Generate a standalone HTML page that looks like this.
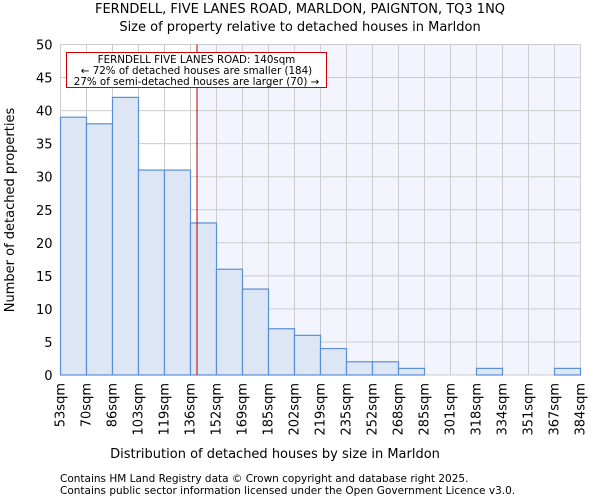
<!DOCTYPE html>
<html><head><meta charset="utf-8"><style>
body{margin:0;background:#fff;font-family:"DejaVu Sans","Liberation Sans",sans-serif}
svg text{font-family:"DejaVu Sans","Liberation Sans",sans-serif;fill:#000}
</style></head><body>
<svg id="c" width="600" height="500">
<text x="300" y="13" text-anchor="middle" font-size="13">FERNDELL, FIVE LANES ROAD, MARLDON, PAIGNTON, TQ3 1NQ</text>
<text x="300" y="31" text-anchor="middle" font-size="13">Size of property relative to detached houses in Marldon</text>
<g id="plot"></g>
<text x="275" y="458" text-anchor="middle" font-size="13">Distribution of detached houses by size in Marldon</text>
<text x="14" y="210" text-anchor="middle" font-size="13" transform="rotate(-90 14 210)">Number of detached properties</text>
<text x="60" y="482" font-size="10.5" fill="#333">Contains HM Land Registry data © Crown copyright and database right 2025.</text>
<text x="60" y="494" font-size="10.5" fill="#333">Contains public sector information licensed under the Open Government Licence v3.0.</text>
</svg>
<script>
const binLabels=["53sqm","70sqm","86sqm","103sqm","119sqm","136sqm","152sqm","169sqm","185sqm","202sqm","219sqm","235sqm","252sqm","268sqm","285sqm","301sqm","318sqm","334sqm","351sqm","367sqm","384sqm"];
const binEdges=[53,70,86,103,119,136,152,169,185,202,219,235,252,268,285,301,318,334,351,367,384];
const counts=[39,38,42,31,31,23,16,13,7,6,4,2,2,1,0,0,1,0,0,1];
const yTicks=[0,5,10,15,20,25,30,35,40,45,50];
const propertySize=140;
const L=60.5,R=580.5,T=44.5,B=375,NS="http://www.w3.org/2000/svg";
const n=counts.length,bw=(R-L)/n;
const xi=i=>L+i*bw;
const xv=v=>{for(let i=0;i<binEdges.length-1;i++){if(v<=binEdges[i+1])return xi(i)+bw*(v-binEdges[i])/(binEdges[i+1]-binEdges[i]);}return R;};
const y=v=>B-(B-T)*v/50;
const g=document.getElementById('plot');
function mk(t,a){const e=document.createElementNS(NS,t);for(const k in a)e.setAttribute(k,a[k]);g.appendChild(e);return e;}
const px=xv(propertySize);
let e=mk('rect',{x:px,y:T,width:R-px,height:B-T,fill:'#f2f5fd'});


yTicks.forEach(t=>{let l=mk('line',{x1:L,x2:R,y1:y(t),y2:y(t),stroke:'#ccc'});


let tx=mk('text',{x:L-8,y:y(t)+5,'text-anchor':'end','font-size':13});tx.textContent=t;

});
binLabels.forEach((s,i)=>{let l=mk('line',{x1:xi(i),x2:xi(i),y1:T,y2:B,stroke:'#ccc'});


const X=xi(i)+4;let tx=mk('text',{x:0,y:0,'text-anchor':'end','font-size':13,transform:`translate(${X},${B+8}) rotate(-90)`});tx.textContent=s;

});
counts.forEach((c,i)=>{if(c<=0)return;let r=mk('rect',{x:xi(i),y:y(c),width:bw,height:B-y(c),fill:'#dce6f4',stroke:'#5b8fd6','stroke-width':1.2});

});
e=mk('line',{x1:px,x2:px,y1:T,y2:B,stroke:'#b00','stroke-width':1});


e=mk('rect',{x:66.5,y:52.5,width:260,height:35,fill:'#fff',stroke:'#c00'});


["FERNDELL FIVE LANES ROAD: 140sqm","← 72% of detached houses are smaller (184)","27% of semi-detached houses are larger (70) →"].forEach((s,i)=>{let t=mk('text',{x:196.5,y:63+i*11,'text-anchor':'middle','font-size':10.3});t.textContent=s;

});
</script>
</body></html>
